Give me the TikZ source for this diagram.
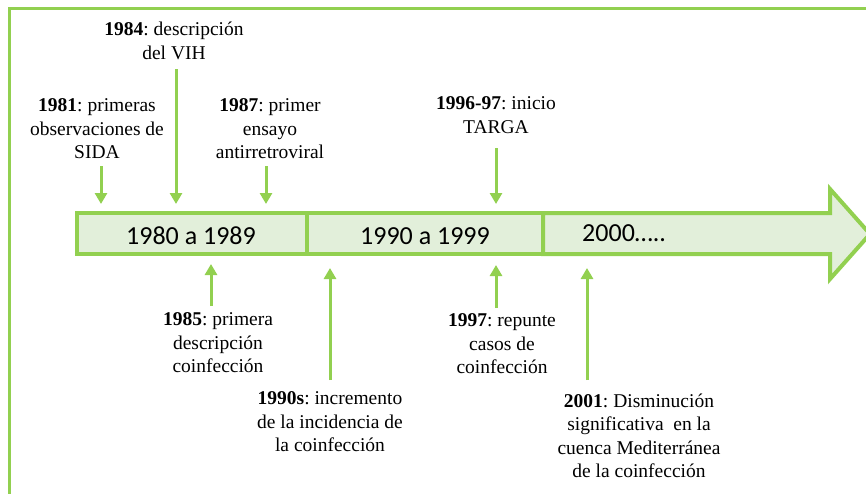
\documentclass[tikz,border=0pt]{standalone}
\usepackage{fontspec}
\setmainfont{Liberation Serif}
\newfontfamily\calib{Carlito}
\usetikzlibrary{arrows.meta}
\definecolor{gr}{RGB}{146,208,80}
\definecolor{lgr}{RGB}{226,239,218}
\frenchspacing
\tikzset{
  evt/.style={align=center,inner sep=0pt,font=\rmfamily\fontsize{19.5}{23.5}\selectfont},
  per/.style={inner sep=0pt,font=\calib\fontsize{26}{30}\selectfont},
  band/.style={draw=gr,fill=lgr,line width=4pt,line join=miter},
  pt/.style={draw=gr,line width=3pt,-{Triangle[length=11pt,width=12pt]}}
}
\begin{document}
\begin{tikzpicture}[x=1pt,y=-1pt]
\useasboundingbox (0,0) rectangle (866,493);
\begin{scope}
\clip (0,0) rectangle (866,493);
\draw[gr,line width=3pt] (9,8) rectangle (900,520);
\draw[band] (543,213) -- (830,213) -- (830,189) -- (870,234) -- (830,279) -- (830,254) -- (543,254) -- cycle;
\end{scope}
\draw[band] (77,213) rectangle (307,254);
\draw[band] (307,213) rectangle (543,254);
\node[per] (p1) at (191,236) {1980 a 1989};
\node[per] (p2) at (425,236) {1990 a 1999};
\node[per,anchor=west] (p3) at (582,233) {2000…..};

% events above
\node[evt] (e81) at (97,129) {\textbf{1981}: primeras\\observaciones de\\SIDA};
\node[evt] (e84) at (174,41) {\textbf{1984}: descripción\\del VIH};
\node[evt] (e87) at (270,129) {\textbf{1987}: primer\\ensayo\\antirretroviral};
\node[evt] (e96) at (496,115) {\textbf{1996-97}: inicio\\TARGA};
% events below
\node[evt] (e85) at (218,343) {\textbf{1985}: primera\\descripción\\coinfección};
\node[evt] (e90) at (330,422) {\textbf{1990s}: incremento\\de la incidencia de\\la coinfección};
\node[evt] (e97) at (502,344) {\textbf{1997}: repunte\\casos de\\coinfección};
\node[evt] (e01) at (639,436) {\textbf{2001}: Disminución\\significativa\ \ en la\\cuenca Mediterránea\\de la coinfección};

\coordinate (a81s) at (101,166); \coordinate (a81e) at (101,204);
\coordinate (a84s) at (176,69);  \coordinate (a84e) at (176,204);
\coordinate (a87s) at (266,166); \coordinate (a87e) at (266,204);
\coordinate (a96s) at (496,148); \coordinate (a96e) at (496,204);
\coordinate (a85s) at (211,306); \coordinate (a85e) at (211,264);
\coordinate (a90s) at (330,380); \coordinate (a90e) at (330,268);
\coordinate (a97s) at (496,308); \coordinate (a97e) at (496,265);
\coordinate (a01s) at (587,380); \coordinate (a01e) at (587,268);
\draw[pt] (a81s) -- (a81e);
\draw[pt] (a84s) -- (a84e);
\draw[pt] (a87s) -- (a87e);
\draw[pt] (a96s) -- (a96e);
\draw[pt] (a85s) -- (a85e);
\draw[pt] (a90s) -- (a90e);
\draw[pt] (a97s) -- (a97e);
\draw[pt] (a01s) -- (a01e);
\end{tikzpicture}
\end{document}
